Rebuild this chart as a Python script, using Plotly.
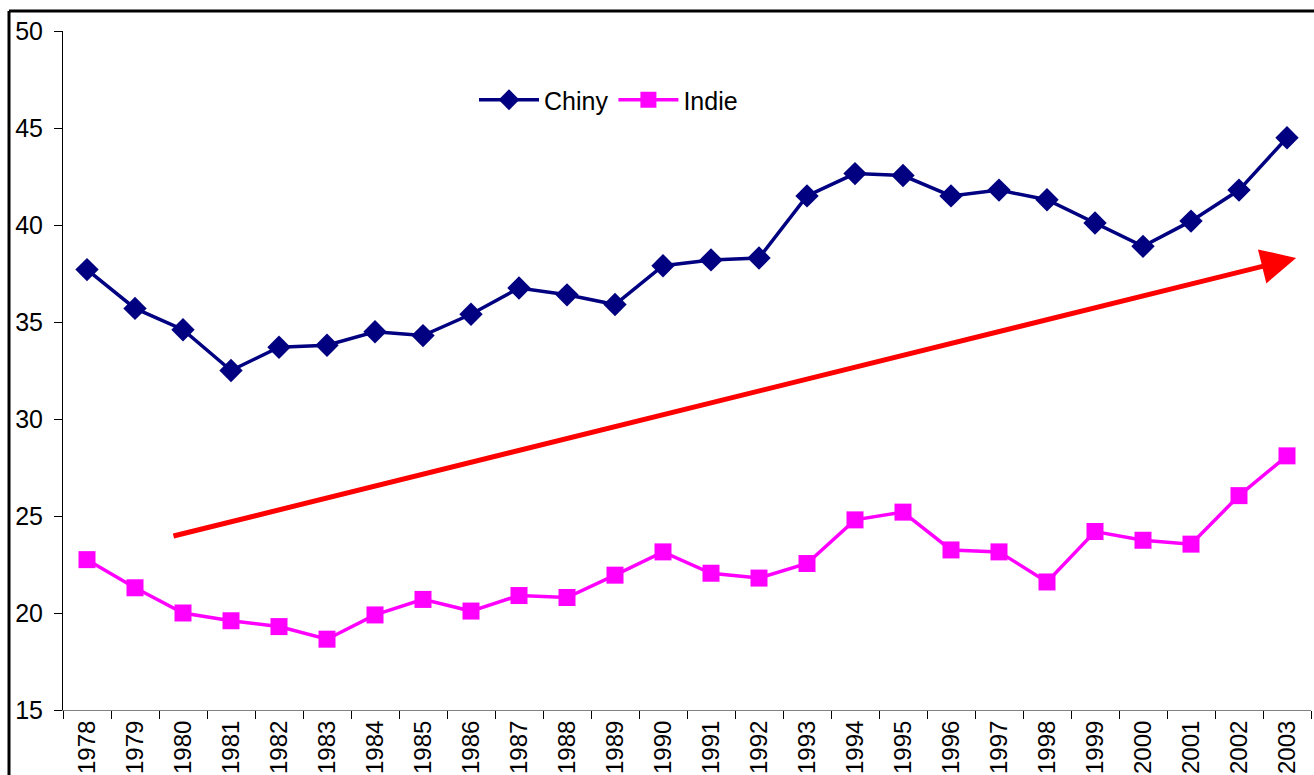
import plotly.graph_objects as go

years = list(range(1978, 2004))
chiny = [37.7, 35.7, 34.6, 32.5, 33.7, 33.8, 34.5, 34.3, 35.4, 36.75, 36.4, 35.9, 37.9,
         38.2, 38.3, 41.5, 42.65, 42.55, 41.5, 41.8, 41.3, 40.1, 38.9, 40.2, 41.8, 44.5]
indie = [22.75, 21.3, 20.0, 19.6, 19.3, 18.65, 19.9, 20.7, 20.1, 20.9, 20.8, 21.95, 23.15,
         22.05, 21.8, 22.55, 24.8, 25.2, 23.25, 23.15, 21.6, 24.2, 23.75, 23.55, 26.05, 28.1]
y_ticks = [15, 20, 25, 30, 35, 40, 45, 50]
arrow_start = (1979.77, 23.95)
arrow_end = (2003.19, 38.3)

FONT = "Liberation Sans, Arial, sans-serif"

fig = go.Figure()
fig.add_trace(go.Scatter(x=years, y=chiny, name="Chiny", mode="lines+markers",
                         line=dict(color="#000080", width=3.5),
                         marker=dict(symbol="diamond", size=18, color="#000080")))
fig.add_trace(go.Scatter(x=years, y=indie, name="Indie", mode="lines+markers",
                         line=dict(color="#FF00FF", width=3.5),
                         marker=dict(symbol="square", size=17, color="#FF00FF")))

fig.add_annotation(x=arrow_end[0], y=arrow_end[1], ax=arrow_start[0], ay=arrow_start[1],
                   xref="x", yref="y", axref="x", ayref="y", text="",
                   showarrow=True, arrowhead=2, arrowsize=1.4, arrowwidth=5,
                   arrowcolor="#FF0000", standoff=0, startstandoff=0)

# outer frame (top and left edges visible)
fig.add_shape(type="line", xref="paper", yref="paper",
              x0=(9 - 63) / 1248, x1=1.01, y0=(710 - 11) / 679, y1=(710 - 11) / 679,
              line=dict(color="black", width=3))
fig.add_shape(type="line", xref="paper", yref="paper",
              x0=(9 - 63) / 1248, x1=(9 - 63) / 1248, y0=(710 - 11) / 679, y1=-0.2,
              line=dict(color="black", width=3))

fig.update_layout(
    width=1314, height=775,
    margin=dict(l=63, r=3, t=31, b=65, autoexpand=False),
    paper_bgcolor="white", plot_bgcolor="white",
    font=dict(family=FONT, size=25, color="black"),
    showlegend=True,
    legend=dict(orientation="h", x=(474 - 63) / 1248, y=(710 - 100) / 679,
                xanchor="left", yanchor="middle", bgcolor="rgba(0,0,0,0)",
                font=dict(size=25), itemwidth=60),
    xaxis=dict(range=[1977.5, 2003.5], tickvals=years, ticktext=[str(y) for y in years],
               tickangle=-90, ticks="", showgrid=False, zeroline=False,
               showline=True, linecolor="#808080", linewidth=1, automargin=False,
               minor=dict(tick0=1977.5, dtick=1, ticks="outside", ticklen=8,
                          tickcolor="black", showgrid=False),
               tickfont=dict(size=24), fixedrange=True),
    yaxis=dict(range=[15, 50], tickvals=y_ticks, ticks="outside", ticklen=8,
               tickcolor="black", showgrid=False, zeroline=False, automargin=False,
               showline=True, linecolor="black", linewidth=1,
               tickfont=dict(size=25), ticklabelstandoff=6, fixedrange=True),
)

fig.write_html("out.html", config={"displayModeBar": False},
               post_script="document.body.style.margin='0px';document.body.style.padding='0px';")
